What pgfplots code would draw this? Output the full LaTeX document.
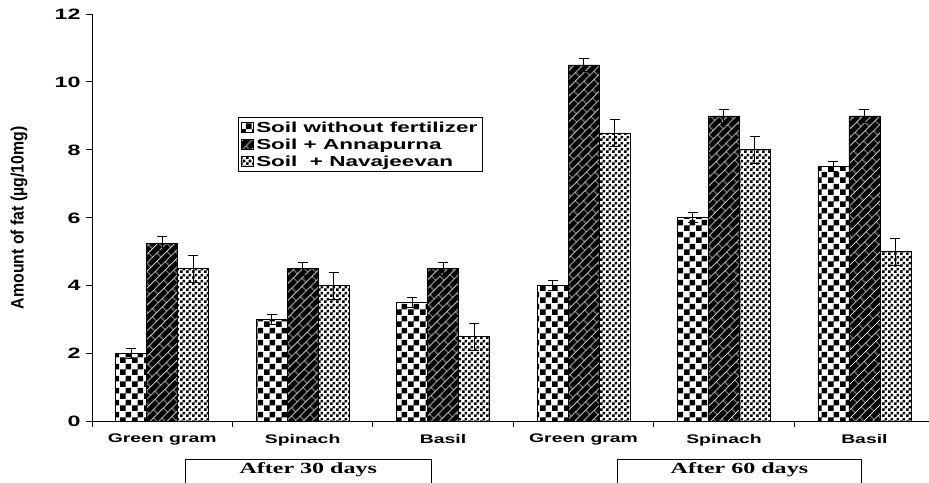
\documentclass[border=0pt]{standalone}
\usepackage{pgfplots}
\pgfplotsset{compat=1.18}
\usepackage{fontspec}
\usetikzlibrary{patterns,patterns.meta}

\newfontfamily\widesans{Liberation Sans}[FakeStretch=1.55]
\newfontfamily\wideserif{Liberation Serif}[FakeStretch=1.55]
\newfontfamily\narrowsans{Liberation Sans}[FakeStretch=0.88]

% coarse checkerboard
\pgfdeclarepatternformonly{bigcheck}{\pgfqpoint{0pt}{0pt}}{\pgfqpoint{12pt}{12pt}}{\pgfqpoint{12pt}{12pt}}{%
  \pgfpathrectangle{\pgfqpoint{0pt}{0pt}}{\pgfqpoint{6pt}{6pt}}%
  \pgfpathrectangle{\pgfqpoint{6pt}{6pt}}{\pgfqpoint{6pt}{6pt}}%
  \pgfusepath{fill}}
% fine checkerboard
\pgfdeclarepatternformonly{smallcheck}{\pgfqpoint{0pt}{0pt}}{\pgfqpoint{6pt}{6pt}}{\pgfqpoint{6pt}{6pt}}{%
  \pgfpathrectangle{\pgfqpoint{0pt}{0pt}}{\pgfqpoint{3pt}{3pt}}%
  \pgfpathrectangle{\pgfqpoint{3pt}{3pt}}{\pgfqpoint{3pt}{3pt}}%
  \pgfusepath{fill}}
% slanted bricks
\tikzdeclarepattern{
  name=slantbricks,
  type=uncolored,
  bounding box={(0pt,0pt) and (14pt,13pt)},
  tile size={(14pt,13pt)},
  tile transformation={rotate=45},
  code={
    \draw[line width=0.75pt] (0pt,0pt)--(14pt,0pt) (0pt,6.5pt)--(14pt,6.5pt)
      (0pt,0pt)--(0pt,6.5pt) (7pt,6.5pt)--(7pt,13pt) (0pt,13pt)--(14pt,13pt);
  }
}

\pgfplotsset{
  boxlegend/.style={legend image code/.code={\draw[##1] (0pt,-5pt) rectangle (12pt,5pt);}},
}

\begin{document}
\begin{tikzpicture}
\begin{axis}[
  scale only axis,
  width=837pt, height=407.7pt,
  xmin=-0.5, xmax=5.46,
  ymin=0, ymax=12,
  axis x line*=bottom, axis y line*=left,
  axis line style={line width=0.9pt, black},
  ybar=0pt, bar width=31pt,
  ytick={0,2,...,12},
  xtick={0,...,5},
  xticklabels={Green gram,Spinach,Basil,Green gram,Spinach,Basil},
  minor xtick={-0.5,0.5,...,5.5},
  tick align=outside,
  major tick length=6pt, minor tick length=5pt,
  major x tick style={draw=none},
  every tick/.style={black, line width=0.9pt},
  /pgf/number format/assume math mode=true,
  yticklabel style={font=\widesans\bfseries\fontsize{15}{17}\selectfont, xshift=-2pt},
  xticklabel style={font=\widesans\bfseries\fontsize{12.5}{14}\selectfont, yshift=-3pt},
  ylabel={Amount of fat (µg/10mg)},
  ylabel style={font=\narrowsans\bfseries\fontsize{18}{20}\selectfont, at={(axis description cs:-0.0872,0.5)}, anchor=center},
  legend style={at={(axis cs:0.54,8.96)}, anchor=north west, draw=black, line width=0.8pt,
    font=\widesans\bfseries\fontsize{14.5}{16.5}\selectfont, cells={anchor=west},
    row sep=1pt, inner xsep=3pt, inner ysep=2pt},
  error bars/y dir=both, error bars/y explicit,
  error bars/error bar style={line width=1pt, black},
  error bars/error mark options={rotate=90, mark size=5pt, line width=1pt, black},
  clip=false,
]
\addplot[draw=black, line width=0.8pt, pattern=bigcheck, pattern color=black, boxlegend]
  coordinates {(0,2) +- (0,0.15) (1,3) +- (0,0.15) (2,3.5) +- (0,0.15)
               (3,4) +- (0,0.15) (4,6) +- (0,0.15) (5,7.5) +- (0,0.15)};
\addlegendentry{Soil without fertilizer}
\addplot[draw=black, line width=0.8pt, fill=black, postaction={pattern=slantbricks, pattern color=white}, boxlegend]
  coordinates {(0,5.25) +- (0,0.2) (1,4.5) +- (0,0.2) (2,4.5) +- (0,0.2)
               (3,10.5) +- (0,0.2) (4,9) +- (0,0.2) (5,9) +- (0,0.2)};
\addlegendentry{Soil + Annapurna}
\addplot[draw=black, line width=0.8pt, pattern=smallcheck, pattern color=black, boxlegend]
  coordinates {(0,4.5) +- (0,0.4) (1,4) +- (0,0.4) (2,2.5) +- (0,0.4)
               (3,8.5) +- (0,0.4) (4,8) +- (0,0.4) (5,5) +- (0,0.4)};
\addlegendentry{Soil \ + Navajeevan}

% period boxes under the categories
\draw[line width=0.8pt] (axis cs:0.162,-2.2) rectangle (axis cs:1.92,-1.10);
\draw[line width=0.8pt] (axis cs:3.24,-2.2) rectangle (axis cs:4.98,-1.10);
\node[font=\wideserif\bfseries\fontsize{15.5}{17}\selectfont] at (axis cs:1.04,-1.42) {After 30 days};
\node[font=\wideserif\bfseries\fontsize{15.5}{17}\selectfont] at (axis cs:4.11,-1.42) {After 60 days};
\end{axis}
\pgfresetboundingbox
\path[use as bounding box] ([xshift=-92pt,yshift=-61.3pt]current axis.south west)
  rectangle ([yshift=14pt]current axis.north east);
\end{tikzpicture}
\end{document}
